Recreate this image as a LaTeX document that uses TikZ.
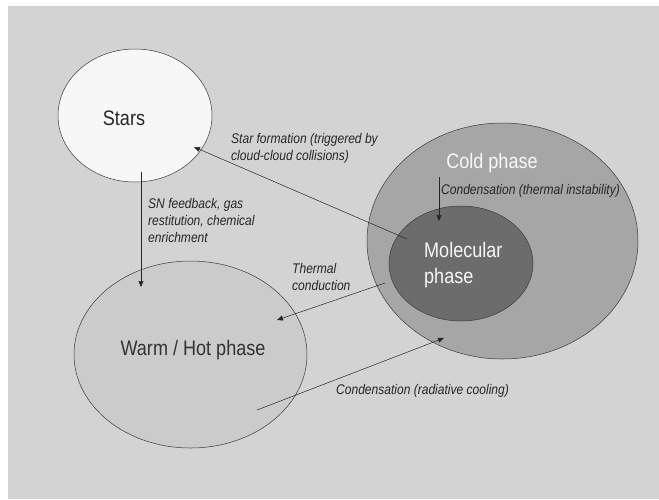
\documentclass[tikz,border=0pt]{standalone}
\usepackage{fontspec}
\setmainfont[FakeStretch=0.86]{Liberation Sans}
\usepackage{xcolor}
\usepackage{tikz}
\usetikzlibrary{arrows.meta,positioning,shapes.geometric}
\definecolor{bggray}{HTML}{D3D3D3}
\definecolor{starfill}{HTML}{F7F7F7}
\definecolor{warmfill}{HTML}{CBCBCB}
\definecolor{coldfill}{HTML}{A6A6A6}
\definecolor{molfill}{HTML}{6C6C6C}
\definecolor{edgegray}{HTML}{3A3A3A}
\definecolor{inkgray}{HTML}{262626}
\tikzset{
  phase/.style={ellipse,draw=edgegray,line width=0.5pt,inner sep=0pt},
  flow/.style={-{Triangle[length=6pt,width=5pt]},line width=0.5pt,draw=inkgray},
  note/.style={font=\itshape\fontsize{14}{17}\selectfont,text=inkgray,align=left,anchor=west,inner sep=0pt},
  title/.style={font=\fontsize{21}{26}\selectfont,inner sep=0pt}
}

\begin{document}
\begin{tikzpicture}[x=1pt,y=-1pt]
  \useasboundingbox (0,0) rectangle (659,499);
  \fill[white] (0,0) rectangle (659,499);
  \fill[bggray] (8,6) rectangle (659,499);
  % phases
  \node[phase,fill=starfill,minimum width=154pt,minimum height=133pt] (stars) at (135,115.5) {};
  \node[phase,fill=warmfill,minimum width=233pt,minimum height=187pt] (warm) at (190.5,354.5) {};
  \node[phase,fill=coldfill,minimum width=271pt,minimum height=236pt] (cold) at (502.5,241) {};
  \node[phase,fill=molfill,minimum width=144pt,minimum height=115pt] (mol) at (461,263.5) {};
  % titles
  \node[title,text=inkgray] (starsTitle) at (124,118) {Stars};
  \node[title,text=black!80] (warmTitle) at (193,350) {Warm / Hot phase};
  \node[title,text=black!3] (coldTitle) at (492,163) {Cold phase};
  \node[title,text=black!3,align=left,anchor=west] (molTitle) at (424,265) {Molecular\\phase};
  % arrow ends
  \coordinate (snStart) at (141,172);   \coordinate (snEnd) at (141,287);
  \coordinate (sfStart) at (407,239);   \coordinate (sfEnd) at (194,147);
  \coordinate (tcStart) at (385,283);   \coordinate (tcEnd) at (277,320);
  \coordinate (ctStart) at (439,177);   \coordinate (ctEnd) at (439,221);
  \coordinate (rcStart) at (257,410);   \coordinate (rcEnd) at (444,338);
  \draw[flow] (snStart) -- (snEnd);
  \draw[flow] (sfStart) -- (sfEnd);
  \draw[flow] (tcStart) -- (tcEnd);
  \draw[flow] (ctStart) -- (ctEnd);
  \draw[flow] (rcStart) -- (rcEnd);
  % notes
  \node[note] (sfNote) at (231,148.5) {Star formation (triggered by\\cloud-cloud collisions)};
  \node[note] (snNote) at (148,220) {SN feedback, gas\\restitution, chemical\\enrichment};
  \node[note] (tcNote) at (292,276.5) {Thermal\\conduction};
  \node[note] (ctNote) at (441,191) {Condensation (thermal instability)};
  \node[note] (rcNote) at (336,391) {Condensation (radiative cooling)};
\end{tikzpicture}
\end{document}
